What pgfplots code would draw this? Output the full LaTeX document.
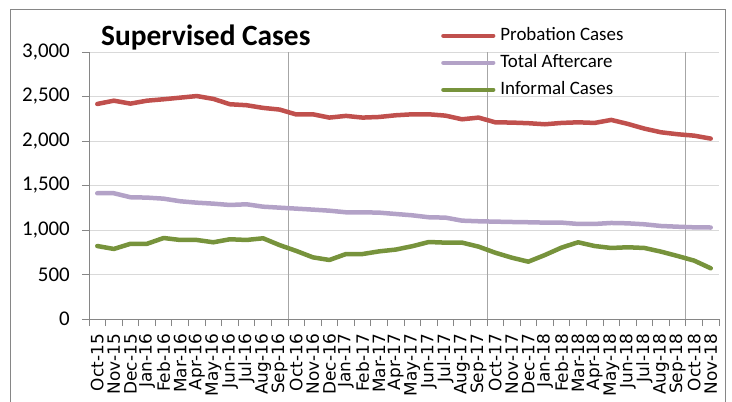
\documentclass[border=0pt]{standalone}
\usepackage{fontspec}
\setmainfont{Carlito}
\newfontfamily\dvs{DejaVu Sans}
\usepackage{pgfplots}
\usepackage{pgfplotstable}
\pgfplotsset{compat=1.18}
\definecolor{cRed}{RGB}{192,80,77}
\definecolor{cPur}{RGB}{179,162,199}
\definecolor{cGrn}{RGB}{119,147,60}
\definecolor{gridL}{RGB}{217,217,217}
\definecolor{gridD}{RGB}{166,166,166}
\definecolor{axisC}{RGB}{134,134,134}
\pgfplotstableread{
x prob after inf
0 2416 1413 820
1 2453 1413 787
2 2420 1368 845
3 2453 1364 845
4 2469 1352 910
5 2487 1323 888
6 2505 1307 888
7 2473 1296 862
8 2413 1281 896
9 2402 1289 888
10 2372 1262 907
11 2353 1251 830
12 2298 1240 765
13 2300 1229 693
14 2263 1217 663
15 2282 1199 730
16 2263 1199 730
17 2270 1195 760
18 2289 1180 780
19 2300 1165 818
20 2300 1143 865
21 2285 1139 858
22 2244 1105 858
23 2263 1098 813
24 2210 1094 745
25 2207 1090 689
26 2200 1087 644
27 2188 1083 719
28 2203 1083 802
29 2210 1068 862
30 2203 1068 820
31 2237 1079 798
32 2192 1075 806
33 2139 1064 798
34 2098 1045 757
35 2076 1037 708
36 2060 1030 656
37 2027 1028 570
}\data
\begin{document}
\begin{tikzpicture}
\useasboundingbox (0,0) rectangle (732bp,402bp);
\draw[axisC] (10bp,0bp) -- (10bp,393bp) -- (725bp,393bp) -- (725bp,0bp);
\begin{axis}[
  scale only axis, width=630bp, height=267bp,
  at={(89bp,83bp)}, anchor=south west,
  xmin=-0.5, xmax=37.5, ymin=0, ymax=3000,
  axis x line*=bottom, axis y line*=left,
  axis line style={-, draw=axisC, line width=0.8pt},
  xtick={0,...,37},
  xticklabels={Oct-15,Nov-15,Dec-15,Jan-16,Feb-16,Mar-16,Apr-16,May-16,Jun-16,Jul-16,Aug-16,Sep-16,Oct-16,Nov-16,Dec-16,Jan-17,Feb-17,Mar-17,Apr-17,May-17,Jun-17,Jul-17,Aug-17,Sep-17,Oct-17,Nov-17,Dec-17,Jan-18,Feb-18,Mar-18,Apr-18,May-18,Jun-18,Jul-18,Aug-18,Sep-18,Oct-18,Nov-18},
  major x tick style={draw=none},
  minor xtick={-0.5,0.5,...,37.5},
  minor tick length=7bp,
  minor x tick style={draw=axisC, line width=0.8pt},
  x tick label style={rotate=90, anchor=east, font=\dvs\fontsize{17}{17}\selectfont, inner sep=0bp, xshift=-8bp},
  extra x ticks={11.5,23.5,35.5},
  extra x tick labels={},
  extra x tick style={grid=major, major grid style={draw=gridD, line width=0.8pt}, major tick length=0pt},
  ytick={0,500,...,3000},
  ymajorgrids, major grid style={draw=gridL, line width=0.8pt},
  y tick style={draw=axisC, line width=0.8pt},
  tick align=outside, major tick length=7bp,
  y tick label style={font=\fontsize{21}{21}\selectfont, /pgf/number format/1000 sep={,}, inner sep=0bp, xshift=-12bp},
  /pgf/number format/assume math mode=true,
  clip=false,
  legend style={at={(0.5587,1.097)}, anchor=north west, draw=none, fill=none, inner sep=0pt,
    font=\fontsize{19}{19}\selectfont, row sep=8bp, column sep=4bp,
    nodes={inner sep=1bp, text height=13bp, text depth=4bp}},
  legend cell align=left,
  legend image code/.code={\draw[#1] (2.25bp,0bp) -- (52bp,0bp);},
  every axis plot/.append style={line width=4.5bp, line join=round, line cap=round},
]
\addplot[cRed] table[x=x,y=prob]{\data};
\addplot[cPur] table[x=x,y=after]{\data};
\addplot[cGrn] table[x=x,y=inf]{\data};
\legend{Probation Cases,Total Aftercare,Informal Cases}
\end{axis}
\node[anchor=base west, font=\bfseries\fontsize{29.5}{29.5}\selectfont, inner sep=0] at (101bp,356bp) {Supervised Cases};
\end{tikzpicture}
\end{document}
